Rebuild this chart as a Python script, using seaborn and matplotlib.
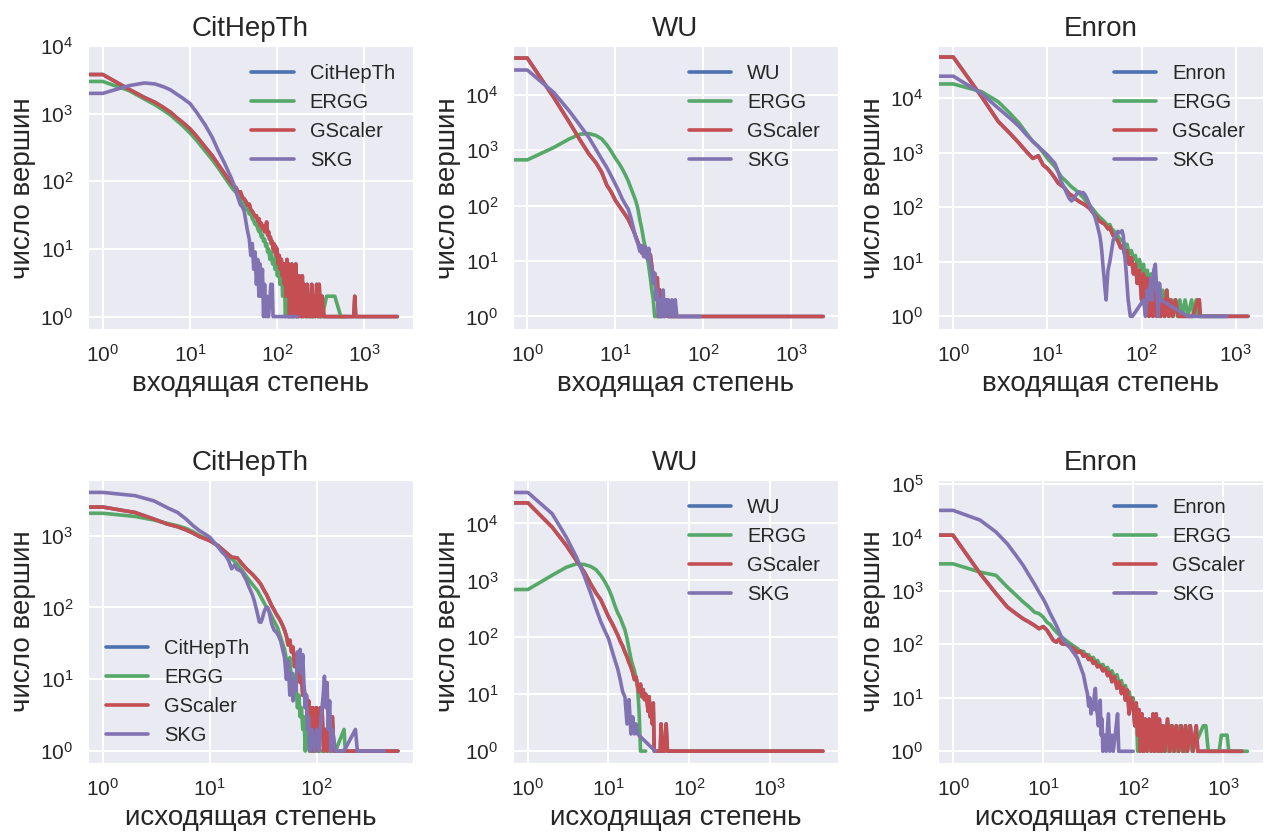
import numpy as np
import matplotlib
matplotlib.use("Agg")
import matplotlib.pyplot as plt
import seaborn as sns

# ---------------- data: (degree, number of vertices) ----------------
# CitHepTh, in-degree
cit_in_gscaler = [(0, 3800), (1, 3800), (2, 2300), (3, 1740), (4, 1470), (5, 1230), (6, 1050), (7, 880), (8, 770),
                  (10, 600), (12, 460), (15, 320), (18, 240), (21, 180), (25, 130), (30, 93), (32, 85), (34, 80),
                  (36, 68), (38, 70), (40, 58), (42, 55), (44, 50), (46, 44), (48, 46), (50, 38), (52, 36), (54, 33),
                  (56, 30), (58, 31), (60, 26), (62, 28), (64, 22), (66, 24), (68, 20), (70, 22), (72, 18), (74, 20),
                  (76, 25), (78, 16), (80, 18), (82, 14), (84, 15), (86, 12), (88, 13), (90, 10), (92, 12), (94, 9),
                  (96, 11), (98, 8), (100, 10), (103, 6), (106, 8), (109, 5), (112, 7), (115, 4), (118, 6), (121, 3),
                  (124, 6), (127, 2), (130, 7), (133, 3), (136, 6), (139, 1), (142, 5), (145, 2), (148, 6), (152, 1),
                  (156, 4), (160, 2), (164, 6), (168, 1), (172, 3), (176, 1), (180, 4), (185, 2), (190, 1), (195, 4),
                  (200, 1), (205, 3), (210, 2), (216, 1), (222, 3), (228, 1), (235, 2), (242, 1), (250, 3), (258, 1),
                  (266, 2), (275, 1), (285, 3), (295, 1), (305, 3), (315, 1), (330, 2), (345, 1), (360, 1), (400, 1),
                  (470, 1), (600, 1), (760, 1), (780, 2), (800, 1), (1100, 1), (1600, 1), (2400, 1)]
cit_in_orig = cit_in_gscaler
cit_in_ergg = [(0, 3000), (1, 3000), (2, 2200), (3, 1650), (4, 1350), (5, 1120), (6, 950), (7, 800), (8, 690),
               (10, 520), (12, 400), (15, 280), (18, 210), (21, 160), (25, 115), (30, 82), (32, 74), (34, 68),
               (36, 58), (38, 60), (40, 48), (42, 46), (44, 40), (46, 38), (48, 33), (50, 34), (52, 28), (54, 26),
               (56, 23), (58, 24), (60, 20), (62, 18), (64, 19), (66, 15), (68, 16), (70, 13), (72, 14), (74, 11),
               (76, 12), (78, 9), (80, 10), (83, 7), (86, 9), (89, 6), (92, 7), (95, 5), (98, 8), (101, 4),
               (104, 8), (108, 3), (112, 6), (116, 2), (120, 5), (125, 1), (130, 4), (135, 1), (140, 3), (146, 1),
               (152, 3), (158, 1), (165, 2), (172, 1), (180, 3), (190, 1), (200, 2), (212, 1), (225, 2), (240, 1),
               (260, 1), (280, 2), (300, 1), (330, 1), (370, 2), (410, 2), (460, 2), (540, 1), (620, 1)]
cit_in_skg = [(0, 2000), (1, 2000), (2, 2600), (3, 2850), (4, 2750), (5, 2500), (6, 2250), (7, 1960), (8, 1750),
              (10, 1420), (12, 1040), (15, 680), (18, 450), (21, 290), (25, 185), (30, 110), (33, 80), (35, 62),
              (36, 55), (38, 45), (40, 42), (42, 36), (44, 25), (46, 18), (48, 14), (50, 8), (52, 12), (54, 5),
              (56, 9), (58, 3), (60, 7), (62, 2), (64, 6), (66, 2), (68, 5), (70, 1), (72, 3), (74, 1), (76, 2),
              (78, 1), (80, 1), (85, 3), (88, 3), (90, 1), (100, 1), (120, 1), (140, 1), (170, 1)]

# WU, in-degree
wu_in_gscaler = [(0, 46000), (1, 46000), (2, 8900), (3, 3200), (4, 1500), (5, 860), (6, 600), (7, 400), (8, 235),
                 (9, 175), (10, 125), (11, 100), (12, 82), (13, 68), (14, 57), (15, 45), (16, 36), (17, 28),
                 (18, 22), (19, 18), (20, 14), (21, 17), (22, 12), (23, 15), (24, 11), (25, 13), (26, 8), (27, 5),
                 (28, 6), (29, 3), (30, 5), (31, 1), (32, 3), (33, 1), (34, 2), (36, 1), (38, 2), (40, 1), (45, 1),
                 (55, 1), (70, 1), (100, 1), (200, 1), (500, 1), (1000, 1), (2300, 1)]
wu_in_orig = wu_in_gscaler
wu_in_ergg = [(0, 670), (1, 670), (2, 1120), (3, 1600), (4, 1950), (5, 2000), (6, 1850), (7, 1600), (8, 1250),
              (9, 950), (10, 720), (11, 580), (12, 460), (13, 360), (14, 280), (15, 210), (16, 160), (17, 125),
              (18, 90), (19, 55), (20, 38), (21, 24), (22, 17), (23, 12), (24, 8), (25, 5), (26, 3), (27, 2),
              (28, 1), (30, 1), (35, 1)]
wu_in_skg = [(0, 28000), (1, 28000), (2, 11000), (3, 5100), (4, 2760), (5, 1700), (6, 1050), (7, 690), (8, 490),
             (9, 340), (10, 245), (11, 180), (12, 132), (13, 105), (14, 87), (15, 61), (16, 40), (17, 27), (18, 21),
             (19, 15), (20, 19), (21, 12), (22, 18), (23, 11), (24, 17), (25, 9), (26, 7), (27, 4), (28, 6),
             (29, 2), (30, 3), (31, 1), (32, 2), (33, 1), (34, 2), (35, 3), (36, 1), (37, 2), (38, 1), (40, 2),
             (42, 1), (44, 2), (46, 1), (48, 2), (50, 1), (60, 1), (75, 1), (92, 1)]

# Enron, in-degree
enron_in_gscaler = [(0, 56000), (1, 56000), (2, 10500), (3, 3700), (4, 2240), (5, 1480), (6, 1030), (7, 780),
                    (8, 870), (9, 590), (10, 510), (11, 420), (12, 340), (13, 275), (14, 250), (15, 230), (16, 200),
                    (17, 175), (18, 165), (20, 140), (22, 125), (24, 115), (26, 105), (28, 95), (30, 82), (32, 72),
                    (34, 62), (36, 55), (38, 52), (40, 50), (42, 45), (44, 40), (46, 43), (48, 35), (50, 30),
                    (53, 28), (56, 24), (60, 18), (63, 20), (66, 14), (70, 16), (74, 9), (78, 12), (82, 6), (86, 9),
                    (90, 4), (95, 7), (100, 2), (105, 6), (110, 2), (115, 5), (120, 1), (126, 4), (132, 1),
                    (138, 3), (145, 1), (152, 4), (160, 1), (168, 2), (176, 1), (185, 3), (195, 1), (205, 2),
                    (215, 1), (230, 2), (245, 1), (260, 1), (300, 1), (350, 1), (395, 2), (410, 2), (420, 1),
                    (500, 1), (700, 1), (1000, 1), (1350, 1)]
enron_in_orig = enron_in_gscaler
enron_in_ergg = [(0, 18000), (1, 18000), (2, 13000), (3, 8500), (4, 5200), (5, 3450), (6, 2240), (7, 1590),
                 (8, 1300), (10, 780), (12, 550), (14, 360), (16, 290), (18, 235), (20, 205), (22, 175), (24, 150),
                 (26, 125), (28, 108), (30, 95), (32, 82), (34, 72), (36, 65), (38, 60), (40, 55), (42, 50),
                 (44, 45), (46, 48), (48, 40), (50, 38), (53, 33), (56, 30), (60, 24), (63, 26), (66, 19), (70, 21),
                 (74, 14), (78, 16), (82, 11), (86, 13), (90, 8), (95, 11), (100, 6), (105, 9), (110, 4), (115, 7),
                 (120, 3), (126, 6), (132, 2), (138, 5), (145, 2), (152, 4), (160, 1), (168, 3), (176, 1),
                 (185, 3), (195, 1), (205, 2), (215, 1), (225, 2), (240, 1), (255, 2), (270, 1), (290, 2),
                 (310, 1), (340, 2), (360, 1), (380, 2), (400, 1), (450, 1), (600, 1), (800, 1)]
enron_in_skg = [(0, 25000), (1, 25000), (2, 12000), (3, 6500), (4, 4250), (5, 3000), (6, 2100), (7, 1590),
                (8, 1280), (10, 900), (12, 630), (13, 445), (14, 290), (15, 235), (16, 180), (17, 145), (18, 130),
                (19, 140), (20, 165), (21, 185), (22, 190), (23, 180), (24, 185), (25, 170), (26, 150), (28, 110),
                (30, 85), (32, 66), (34, 45), (36, 30), (37, 22), (38, 14), (39, 8), (40, 5), (41, 3), (42, 2),
                (43, 4), (44, 7), (46, 10), (48, 16), (50, 25), (53, 30), (56, 36), (59, 34), (62, 37), (64, 30),
                (66, 14), (68, 8), (70, 4), (72, 2), (76, 1), (80, 1), (105, 2), (110, 1), (115, 3), (120, 2),
                (125, 5), (130, 2), (135, 7), (140, 9), (145, 3), (150, 1), (155, 4), (160, 2), (310, 1),
                (800, 1)]

# CitHepTh, out-degree
cit_out_gscaler = [(0, 2500), (1, 2500), (2, 2100), (3, 1700), (4, 1450), (5, 1330), (6, 1200), (7, 1080),
                   (8, 970), (10, 850), (12, 720), (14, 590), (16, 500), (18, 490), (20, 405), (22, 345), (25, 290),
                   (28, 240), (30, 210), (32, 175), (34, 150), (36, 125), (38, 105), (40, 92), (42, 80), (44, 72),
                   (46, 64), (48, 56), (50, 48), (52, 40), (54, 30), (56, 35), (58, 24), (60, 28), (62, 15),
                   (64, 22), (66, 13), (68, 16), (70, 9), (72, 11), (74, 6), (76, 8), (78, 5), (80, 6), (82, 3),
                   (84, 5), (86, 2), (88, 4), (90, 1), (92, 4), (95, 1), (98, 4), (100, 4), (104, 1), (108, 4),
                   (112, 4), (116, 1), (120, 2), (125, 1), (130, 3), (135, 1), (140, 3), (145, 1), (160, 1),
                   (200, 1), (250, 1), (300, 1), (400, 1), (575, 1)]
cit_out_orig = cit_out_gscaler
cit_out_ergg = [(0, 2050), (1, 2050), (2, 1850), (3, 1650), (4, 1480), (5, 1370), (6, 1260), (7, 1130), (8, 1000),
                (10, 860), (12, 720), (14, 580), (16, 480), (18, 400), (20, 330), (22, 270), (25, 210), (28, 170),
                (30, 140), (33, 108), (36, 88), (40, 64), (43, 52), (46, 38), (50, 26), (53, 16), (56, 20),
                (58, 10), (60, 12), (62, 6), (64, 8), (66, 4), (68, 6), (70, 3), (72, 4), (74, 2), (76, 3),
                (78, 1), (80, 2), (85, 1), (90, 1), (100, 1), (120, 1), (150, 1), (180, 2), (185, 1), (200, 1)]
cit_out_skg = [(0, 4000), (1, 4000), (2, 3600), (3, 3050), (4, 2450), (5, 2100), (6, 1700), (7, 1370), (8, 1170),
               (9, 1050), (10, 950), (11, 800), (12, 690), (13, 590), (14, 530), (15, 450), (16, 345), (17, 390),
               (18, 340), (19, 330), (20, 310), (21, 270), (22, 237), (23, 200), (24, 173), (25, 150), (26, 125),
               (27, 100), (28, 80), (29, 63), (30, 62), (31, 70), (32, 85), (33, 95), (34, 100), (35, 98),
               (36, 85), (37, 70), (38, 58), (40, 48), (42, 45), (44, 40), (46, 34), (48, 26), (50, 20), (52, 10),
               (54, 18), (56, 6), (58, 12), (60, 5), (62, 9), (64, 7), (66, 24), (68, 14), (70, 26), (72, 12),
               (74, 22), (76, 8), (78, 4), (80, 6), (82, 2), (84, 3), (86, 1), (90, 2), (95, 1), (100, 2),
               (105, 1), (110, 3), (115, 6), (118, 11), (122, 4), (125, 9), (128, 2), (132, 5), (136, 1),
               (140, 2), (150, 1), (180, 1), (230, 2), (240, 1), (300, 1), (430, 1)]

# WU, out-degree
wu_out_gscaler = [(0, 23000), (1, 23000), (2, 8600), (3, 4100), (4, 2230), (5, 1400), (6, 870), (7, 600),
                  (8, 460), (9, 320), (10, 230), (11, 180), (12, 140), (13, 110), (14, 85), (15, 70), (16, 55),
                  (17, 45), (18, 36), (19, 30), (20, 24), (21, 18), (22, 20), (23, 14), (24, 11), (25, 15),
                  (26, 9), (27, 12), (28, 8), (29, 10), (30, 8), (31, 5), (32, 9), (33, 4), (34, 6), (35, 3),
                  (36, 7), (37, 1), (40, 1), (44, 1), (45, 3), (47, 1), (50, 1), (52, 3), (54, 1), (70, 1),
                  (100, 1), (200, 1), (500, 1), (1000, 1), (2000, 1), (4600, 1)]
wu_out_orig = wu_out_gscaler
wu_out_ergg = [(0, 690), (1, 690), (2, 1230), (3, 1700), (4, 1950), (5, 1900), (6, 1760), (7, 1540), (8, 1230),
               (9, 950), (10, 720), (11, 520), (12, 360), (13, 270), (14, 220), (15, 170), (16, 135), (17, 95),
               (18, 62), (19, 42), (20, 32), (21, 26), (22, 19), (23, 13), (24, 5), (25, 1), (27, 1), (29, 1)]
wu_out_skg = [(0, 35000), (1, 35000), (2, 14800), (3, 5700), (4, 2560), (5, 1200), (6, 600), (7, 320), (8, 190),
              (9, 130), (10, 95), (11, 60), (12, 40), (13, 28), (14, 18), (15, 11), (16, 9), (17, 3), (18, 8),
              (19, 2), (20, 4), (21, 2), (22, 3), (23, 2), (38, 1)]

# Enron, out-degree
enron_out_gscaler = [(0, 11000), (1, 11000), (2, 2100), (3, 890), (4, 500), (5, 375), (6, 300), (7, 260),
                     (8, 226), (9, 196), (10, 215), (11, 185), (12, 147), (13, 118), (14, 110), (15, 125),
                     (16, 103), (18, 100), (20, 89), (22, 85), (24, 70), (26, 75), (28, 60), (30, 64), (32, 52),
                     (34, 55), (36, 44), (38, 47), (40, 38), (43, 40), (46, 32), (49, 35), (52, 26), (55, 30),
                     (58, 20), (62, 25), (66, 15), (70, 20), (74, 12), (78, 16), (82, 9), (86, 14), (90, 5),
                     (95, 10), (100, 7), (104, 3), (108, 8), (112, 2), (116, 6), (120, 1), (125, 5), (130, 1),
                     (136, 4), (142, 1), (150, 4), (158, 1), (166, 5), (172, 1), (180, 5), (188, 1), (195, 4),
                     (205, 1), (215, 3), (225, 1), (240, 4), (255, 1), (270, 3), (285, 1), (300, 3), (320, 1),
                     (340, 3), (360, 1), (380, 3), (400, 1), (430, 3), (460, 1), (500, 3), (520, 1), (700, 1),
                     (1000, 1), (1600, 1)]
enron_out_orig = enron_out_gscaler
enron_out_ergg = [(0, 3200), (1, 3200), (2, 2240), (3, 1950), (4, 1180), (5, 830), (6, 620), (7, 500), (8, 400),
                  (9, 375), (10, 324), (11, 260), (12, 235), (13, 196), (14, 170), (16, 137), (18, 118), (20, 103),
                  (22, 92), (24, 84), (26, 72), (28, 74), (30, 62), (32, 64), (34, 54), (36, 57), (38, 47),
                  (40, 50), (43, 40), (46, 42), (49, 34), (52, 37), (55, 28), (58, 32), (62, 24), (66, 27),
                  (70, 18), (74, 21), (78, 14), (82, 17), (86, 11), (90, 13), (95, 8), (100, 10), (104, 4),
                  (108, 7), (112, 1), (116, 5), (120, 2), (125, 4), (130, 1), (136, 4), (142, 1), (150, 3),
                  (158, 1), (166, 4), (175, 1), (185, 3), (195, 1), (205, 3), (215, 1), (230, 2), (245, 1),
                  (260, 3), (275, 1), (290, 2), (310, 1), (330, 3), (350, 1), (380, 1), (420, 3), (450, 1),
                  (600, 3), (640, 3), (680, 1), (900, 1), (950, 2), (1100, 2), (1150, 1), (1500, 1), (1850, 1)]
enron_out_skg = [(0, 32000), (1, 32000), (2, 21000), (3, 12600), (4, 7600), (5, 4600), (6, 3000), (7, 1950),
                 (8, 1350), (9, 950), (10, 710), (11, 520), (12, 375), (13, 290), (14, 226), (15, 175), (16, 137),
                 (17, 118), (18, 103), (19, 95), (20, 85), (22, 68), (24, 55), (26, 38), (28, 27), (30, 15),
                 (31, 12), (32, 7), (33, 10), (34, 5), (35, 8), (36, 6), (37, 11), (38, 15), (39, 6), (40, 5),
                 (41, 3), (42, 5), (43, 9), (44, 2), (45, 4), (46, 1), (48, 2), (50, 1), (53, 5), (55, 1),
                 (58, 2), (60, 1), (63, 2), (67, 5), (69, 1), (80, 1), (100, 1)]

model_names = ["ERGG", "GScaler", "SKG"]
ylabel_text = "число вершин"
xlabel_in = "входящая степень"
xlabel_out = "исходящая степень"

# ---------------- style ----------------
sns.set_style("darkgrid")
plt.rcParams["font.family"] = ["Liberation Sans", "DejaVu Sans"]
plt.rcParams["mathtext.fontset"] = "custom"
plt.rcParams["mathtext.rm"] = "Liberation Sans"
plt.rcParams["mathtext.it"] = "Liberation Sans:italic"
plt.rcParams["mathtext.bf"] = "Liberation Sans:bold"
plt.rcParams["mathtext.default"] = "regular"
plt.rcParams["grid.linewidth"] = 1.5
plt.rcParams["axes.unicode_minus"] = False

palette = ["#4C72B0", "#55A868", "#C44E52", "#8172B2"]
TEXT = "#262626"

fig, axes = plt.subplots(2, 3, figsize=(12.71, 8.34), dpi=100)
fig.subplots_adjust(left=0.0692, right=0.9937, bottom=0.0851, top=0.9448, wspace=0.3077, hspace=0.53)

panels = [
    (0, 0, "CitHepTh", xlabel_in, [cit_in_orig, cit_in_ergg, cit_in_gscaler, cit_in_skg],
     (-0.17, 3.56), (-0.19, 4.001), "upper right"),
    (0, 1, "WU", xlabel_in, [wu_in_orig, wu_in_ergg, wu_in_gscaler, wu_in_skg],
     (-0.163, 3.53), (-0.234, 4.88), "upper right"),
    (0, 2, "Enron", xlabel_in, [enron_in_orig, enron_in_ergg, enron_in_gscaler, enron_in_skg],
     (-0.163, 3.29), (-0.24, 4.95), "upper right"),
    (1, 0, "CitHepTh", xlabel_out, [cit_out_orig, cit_out_ergg, cit_out_gscaler, cit_out_skg],
     (-0.14, 2.90), (-0.167, 3.78), "lower left"),
    (1, 1, "WU", xlabel_out, [wu_out_orig, wu_out_ergg, wu_out_gscaler, wu_out_skg],
     (-0.186, 3.85), (-0.21, 4.77), "upper right"),
    (1, 2, "Enron", xlabel_out, [enron_out_orig, enron_out_ergg, enron_out_gscaler, enron_out_skg],
     (-0.167, 3.44), (-0.22, 5.08), "upper right"),
]

for r, c, name, xlab, series, xl, yl, loc in panels:
    ax = axes[r, c]
    labels = [name] + model_names
    for pairs, col, lab in zip(series, palette, labels):
        k = np.array([p[0] for p in pairs], dtype=float)
        n = np.array([p[1] for p in pairs], dtype=float)
        sns.lineplot(x=k, y=n, ax=ax, color=col, linewidth=2.6, label=lab,
                     estimator=None, sort=False, legend=False, errorbar=None)
    ax.set_xscale("log")
    ax.set_yscale("log")
    ax.set_xlim(10 ** xl[0], 10 ** xl[1])
    ax.set_ylim(10 ** yl[0], 10 ** yl[1])
    ax.set_title(name, fontsize=20, color=TEXT, pad=7)
    ax.set_xlabel(xlab, fontsize=20, color=TEXT, labelpad=4)
    ax.set_ylabel(ylabel_text, fontsize=20, color=TEXT, labelpad=3)
    ax.tick_params(axis="both", which="major", labelsize=15, labelcolor=TEXT, pad=7)
    ax.grid(True, which="major", color="white", linewidth=1.5)
    ax.grid(False, which="minor")
    ax.legend(loc=loc, frameon=False, fontsize=14.5, handlelength=2.1)

fig.savefig("out.png", dpi=100)
